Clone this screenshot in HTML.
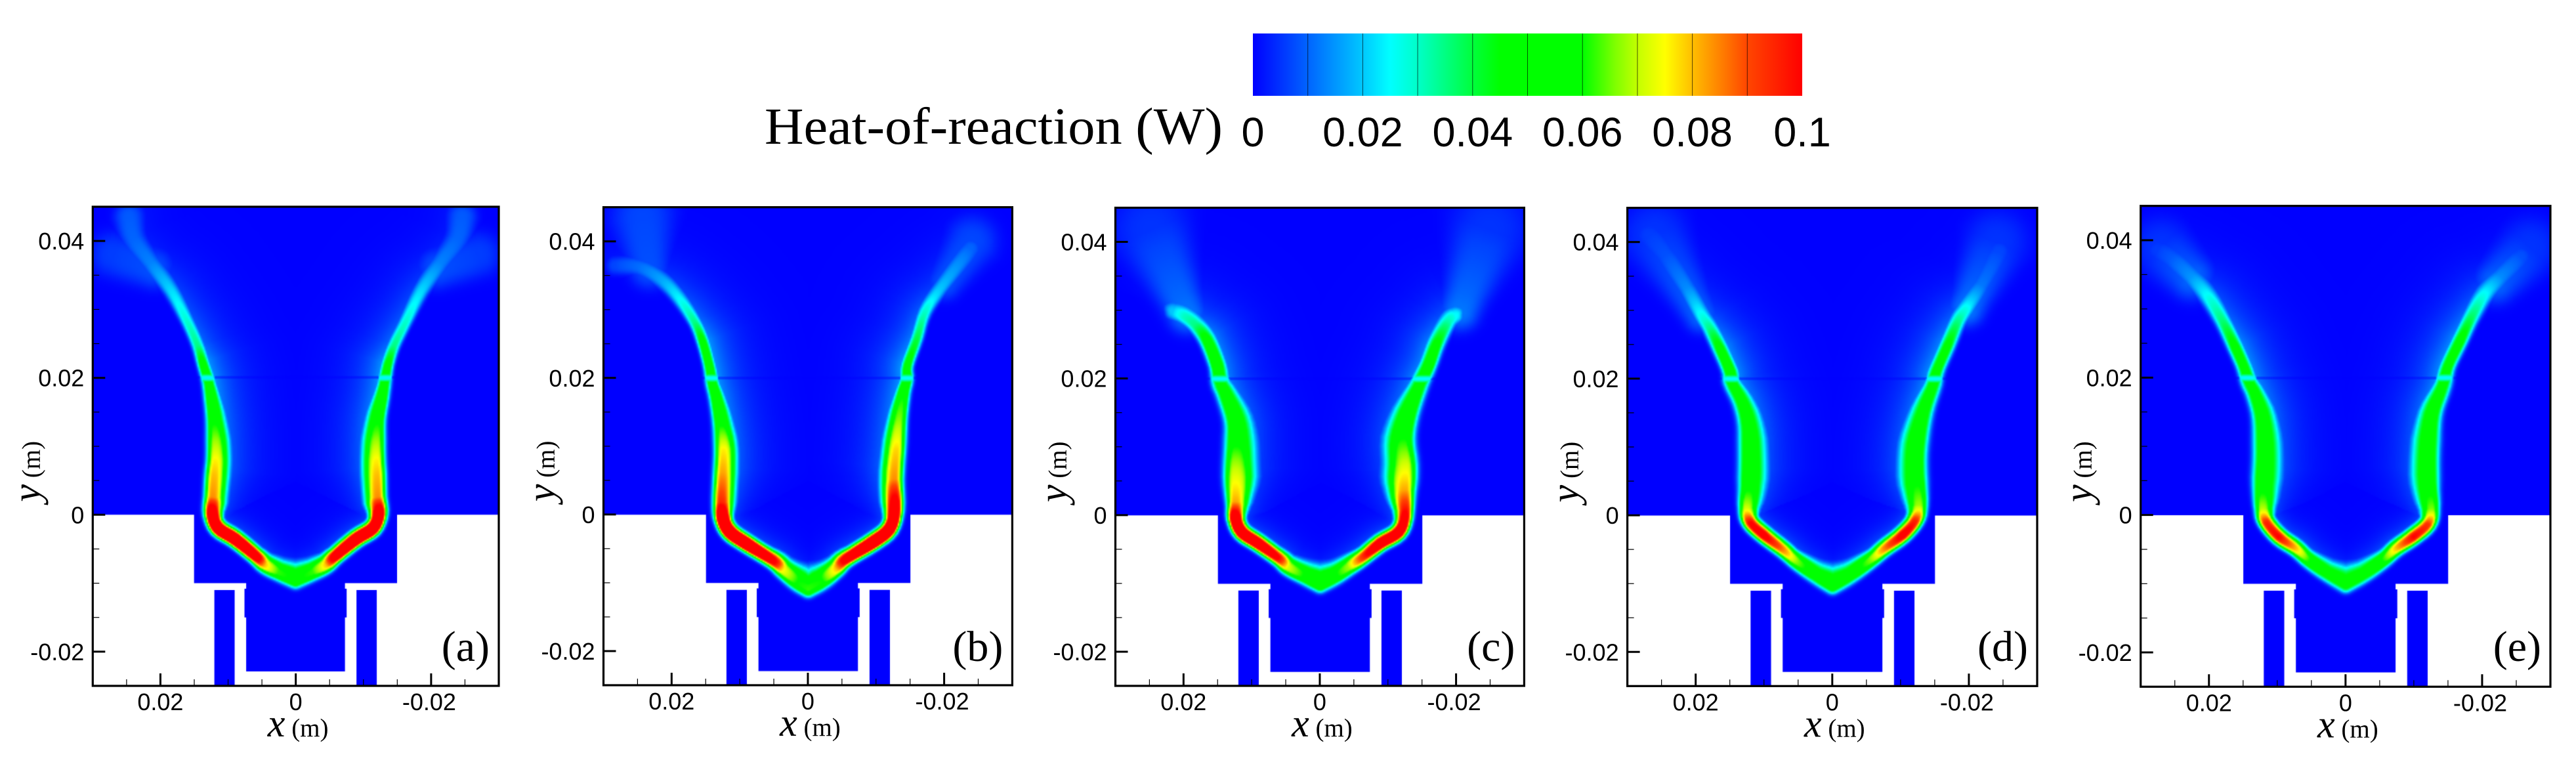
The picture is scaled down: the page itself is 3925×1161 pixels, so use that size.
<!DOCTYPE html>
<html lang="en">
<head>
<meta charset="utf-8">
<title>Heat-of-reaction contours</title>
<style>
html,body{margin:0;padding:0;background:#fff;}
#stage{position:relative;width:3925px;height:1161px;overflow:hidden;background:#fff;}
#stage canvas{position:absolute;display:block;}
#overlay{position:absolute;left:0;top:0;}
.sans{font-family:"Liberation Sans",sans-serif;fill:#000;}
.serif{font-family:"Liberation Serif",serif;fill:#000;}
</style>
</head>
<body>
<div id="stage">
<svg id="overlay" width="3925" height="1161" viewBox="0 0 3925 1161" xmlns="http://www.w3.org/2000/svg">
  <defs><linearGradient id="cbGrad" x1="0" x2="1" y1="0" y2="0"></linearGradient></defs>
  <g id="colorbar"></g>
  <text class="serif" x="1165" y="219" font-size="79" textLength="698" lengthAdjust="spacingAndGlyphs">Heat-of-reaction (W)</text>
  <g id="axes"></g>
</svg>
</div>
<script>
/* ---------- axis data ---------- */
const panelLetters = ['(a)', '(b)', '(c)', '(d)', '(e)'];
const xMajorTicks = [0.02, 0, -0.02];
const xTickLabels = ['0.02', '0', '-0.02'];
const xMinorTicks = [0.025, 0.015, 0.01, 0.005, -0.005, -0.01, -0.015, -0.025];
const yMajorTicks = [0.04, 0.02, 0, -0.02];
const yTickLabels = ['0.04', '0.02', '0', '-0.02'];
const yMinorTicks = [0.035, 0.03, 0.025, 0.015, 0.01, 0.005, -0.005, -0.01, -0.015];
const xDomain = [0.03, -0.03];
const yDomain = [0.045, -0.025];

/* ---------- colour scale ---------- */
const colorbarTicks = [0, 0.02, 0.04, 0.06, 0.08, 0.1];
const colorbarLabels = ['0', '0.02', '0.04', '0.06', '0.08', '0.1'];
const colorbarLevels = [0.01, 0.02, 0.03, 0.04, 0.05, 0.06, 0.07, 0.08, 0.09];
const cmapValues = [0, 0.01, 0.02, 0.025, 0.03, 0.035, 0.04, 0.045, 0.06, 0.066, 0.07, 0.075, 0.08, 0.085, 0.09, 0.1];
const cmapColors = [[0,0,255],[0,100,255],[0,200,255],[0,255,255],[0,255,200],[0,255,130],[0,255,60],[0,255,0],[0,255,0],[128,255,0],[195,255,0],[255,255,0],[255,190,0],[255,130,0],[255,70,0],[255,0,0]];

/* ---------- burner geometry, mm: xMin, xMax, yMin, yMax ---------- */
const burnerRects = [[-30,30,0,45],[-15,15,-10,0],[-7.3,7.3,-22.9,-9.9],[-7.55,7.55,-15,-10.8],[9,12,-25,-11],[-12,-9,-25,-11]];

/* ---------- flame-front traces: x mm, y mm, peak heat-of-reaction W ---------- */
const frontALeft = [[0,-9.6,.058],[2.6,-8.45,.062],[4.55,-7.4,.08],[6,-6,.115],[9,-3.6,.135],[11.5,-2,.135],[12.4,.15,.12],[12.3,2.6,.084],[12.1,5.8,.08],[11.9,8,.076],[11.9,10.7,.068],[12.1,13.9,.058],[12.5,17.1,.056],[12.9,19.5,.052],[13.7,22,.052],[14.5,24.7,.035],[15.9,27.9,.03],[18.4,32.7,.022],[21.4,36.8,.013],[23.9,40.3,.01],[24.6,43.5,.009]];
const frontARight = [[0,-9.6,.058],[-2.6,-8.45,.062],[-4.55,-7.4,.08],[-6,-6,.115],[-9,-3.6,.135],[-11.5,-2,.135],[-12.4,.15,.12],[-12.2,2.6,.084],[-12.1,5.8,.08],[-12,8,.076],[-12,10.7,.068],[-12.2,13.9,.058],[-12.8,17.1,.056],[-13.2,19.5,.052],[-13.7,22,.05],[-14.6,24.7,.035],[-16.2,27.9,.03],[-18.6,32.7,.022],[-21.4,36.8,.013],[-23.9,40.3,.01],[-24.6,43.5,.009]];
const plumeALeft = [[21,36,.008],[27,38,.006]];
const plumeARight = [[-21,36,.008],[-27,38,.006]];
const frontBLeft = [[0,-10.9,.062],[1.7,-9.9,.06],[3.7,-8.2,.075],[5.2,-6.75,.105],[9.1,-4.3,.14],[11.55,-2.6,.145],[12.6,-.6,.135],[12.8,1.8,.095],[12.6,6.2,.082],[12.5,9.6,.076],[12.8,13,.06],[13.5,17,.056],[14.1,19.4,.055],[14.5,21.6,.055],[15.5,25.3,.05],[16.7,28.2,.035],[18.9,31.6,.025],[21.4,34.3,.017],[24.8,36.3,.011],[28.3,36.5,.007]];
const frontBRight = [[0,-10.9,.062],[-2.2,-9.7,.06],[-4.2,-8,.08],[-5.65,-6.5,.11],[-9.6,-4.05,.14],[-12,-2.1,.135],[-12.8,.8,.115],[-12.7,5.2,.084],[-13,9.6,.078],[-13.4,14,.066],[-14,17.9,.058],[-14.5,19.9,.055],[-14.6,21.9,.05],[-16,25.8,.04],[-17.2,29.7,.03],[-19.4,33.1,.02],[-23.8,39,.01]];
const plumeBLeft = [[23.3,36,.008],[24.3,43.4,.007]];
const plumeBRight = [[-20,34,.008],[-24,40,.007]];
const frontCLeft = [[0,-10.1,.06],[2.2,-9,.058],[4.7,-7.65,.072],[6.1,-6.3,.1],[9.1,-4.15,.122],[11.55,-2.5,.128],[12.5,-.4,.122],[12.5,2,.082],[12.5,6.9,.07],[12.4,10.7,.058],[12.6,13.9,.055],[13.9,17.7,.052],[14.7,19.5,.05],[15.2,22,.058],[16.7,25.7,.05],[18.4,27.9,.035],[20.1,29.2,.03],[21.6,29.8,.02]];
const frontCRight = [[0,-10.1,.06],[-2.2,-9,.058],[-4.2,-7.65,.068],[-6.1,-6.3,.092],[-8.85,-4.15,.118],[-11.55,-2.5,.12],[-12.5,-.1,.105],[-12.5,3.7,.082],[-12.6,7.4,.072],[-12.3,11.2,.06],[-13.1,15,.056],[-14.7,19.3,.05],[-16,22,.055],[-17.2,25.2,.048],[-18.9,28.4,.032],[-19.9,29.2,.025]];
const plumeCLeft = [[19.5,29.5,.012],[24.8,41.9,.005]];
const plumeCRight = [[-20.5,30,.012],[-24.8,41.9,.005]];
const frontDLeft = [[0,-10.3,.055],[2.5,-8.8,.052],[5.2,-6.85,.066],[7.2,-5.1,.085],[10.1,-2.9,.105],[12.1,-1,.1],[12.6,1,.072],[12.3,4.4,.057],[12.2,9,.055],[12.4,13.2,.052],[13.3,16.6,.05],[14.8,19.6,.05],[15,21,.055],[16.5,24.4,.05],[18,27.4,.035],[19.2,29.3,.027],[21.4,33.3,.014],[24.4,38.1,.008],[26.8,41,.006]];
const frontDRight = [[0,-10.3,.055],[-2.65,-8.8,.052],[-5.6,-6.6,.066],[-7.6,-4.9,.085],[-10.3,-2.9,.105],[-12.2,-.7,.095],[-12.7,1.5,.068],[-12.3,5.9,.056],[-12.4,10.3,.055],[-13.4,15.2,.05],[-14.8,19.3,.05],[-15.2,21,.05],[-16.9,24.9,.048],[-18.4,28.4,.035],[-19.6,30.3,.027],[-21.8,33.7,.012],[-24.3,38.6,.007]];
const plumeDLeft = [[19.2,29.3,.01],[26,41,.005]];
const plumeDRight = [[-19.6,30.3,.012],[-24,40,.005]];
const frontELeft = [[0,-10.1,.05],[2.9,-8.4,.05],[5.35,-6.65,.06],[7.3,-4.9,.08],[9.8,-3.2,.1],[11.7,-1,.095],[12.2,.9,.07],[12.2,4.35,.056],[12,9.2,.054],[12.3,14.1,.052],[13.3,17.6,.05],[14.2,19.5,.05],[14.9,21.5,.05],[16.2,24.4,.05],[18.1,28.3,.036],[20.1,31.7,.027],[22.6,34.7,.015],[25.5,37.4,.009],[27.5,38.6,.006]];
const frontERight = [[0,-10.1,.05],[-2.75,-8.6,.05],[-5.45,-6.65,.06],[-7.4,-4.9,.08],[-9.9,-3.2,.1],[-12.1,-1.3,.093],[-12.6,.9,.066],[-12.2,4.8,.055],[-12.2,9.7,.053],[-12.7,14.6,.052],[-13.9,18,.05],[-14.4,19.5,.05],[-15,21.7,.05],[-16.8,25.4,.05],[-18.7,29.3,.036],[-20.4,32.2,.026],[-22.7,34.7,.014],[-25.6,37.6,.008]];
const plumeELeft = [[22.6,34.7,.01],[27,39,.005]];
const plumeERight = [[-22,34,.01],[-27,39,.005]];

/* ---------- reaction-zone thickness, mm, against height y ---------- */
const thicknessY = [-11,-10,-8.5,-6,-1,2,6,11,15,19,22,28,33,38,44];
const thicknessOuter = [1.15,1.15,1.1,1.05,1.05,1.15,1.2,1.2,1.05,.95,.8,.8,1,1.5,2.2];
const thicknessInner = [2.2,2.6,1.9,1.25,1.3,1.9,2.1,2,1.6,1,.95,1,1.2,1.5,2.2];

/* ---------- layout ---------- */
const panelBoxes = [
  {left:141.3,right:760,top:315,bottom:1045,titleGap:81},
  {left:919.5,right:1542.4,top:315.7,bottom:1044,titleGap:75},
  {left:1699.5,right:2322.4,top:316.5,bottom:1045,titleGap:75},
  {left:2479.6,right:3104,top:316.7,bottom:1045.3,titleGap:75},
  {left:3261.7,right:3886,top:313.7,bottom:1046.3,titleGap:75}
];
const panelFronts = [
  {left:[frontALeft],right:[frontARight],plumeL:[plumeALeft],plumeR:[plumeARight],outerScale:1,innerScale:1},
  {left:[frontBLeft],right:[frontBRight],plumeL:[plumeBLeft],plumeR:[plumeBRight],outerScale:1,innerScale:.95},
  {left:[frontCLeft],right:[frontCRight],plumeL:[plumeCLeft],plumeR:[plumeCRight],outerScale:1.3,innerScale:1.4},
  {left:[frontDLeft],right:[frontDRight],plumeL:[plumeDLeft],plumeR:[plumeDRight],outerScale:1.25,innerScale:1.2},
  {left:[frontELeft],right:[frontERight],plumeL:[plumeELeft],plumeR:[plumeERight],outerScale:1.25,innerScale:1.2}
];

const SVGNS = 'http://www.w3.org/2000/svg';
const axesLayer = document.getElementById('axes');
const stage = document.getElementById('stage');

function lerpTable(xs, ys, v) {
  if (v <= xs[0]) return ys[0];
  const n = xs.length - 1;
  if (v >= xs[n]) return ys[n];
  let i = 0;
  while (v > xs[i + 1]) i++;
  return ys[i] + (ys[i + 1] - ys[i]) * (v - xs[i]) / (xs[i + 1] - xs[i]);
}
function colorAt(v) {
  const n = cmapValues.length - 1;
  if (v <= 0) return cmapColors[0];
  if (v >= cmapValues[n]) return cmapColors[n];
  let i = 0;
  while (v > cmapValues[i + 1]) i++;
  const t = (v - cmapValues[i]) / (cmapValues[i + 1] - cmapValues[i]);
  const a = cmapColors[i], b = cmapColors[i + 1];
  return [a[0] + (b[0] - a[0]) * t, a[1] + (b[1] - a[1]) * t, a[2] + (b[2] - a[2]) * t];
}

function widthsAt(y, spec, boost) {
  const k = Math.max(0, Math.min(1, (y - 1) / 4));
  let o = lerpTable(thicknessY, thicknessOuter, y) * (1 + (spec.outerScale - 1) * k) * boost;
  let n = lerpTable(thicknessY, thicknessInner, y) * (1 + (spec.innerScale - 1) * k) * boost;
  if (boost > 1) { o = n = (o + n) / 2; }
  return [o, n];
}

/* Smooth a trace into fine segments, working in |x| so both sides share one normal rule. */
function refineTrace(trace, spec, boost) {
  const out = [];
  const steps = 4;
  for (let i = 0; i < trace.length - 1; i++) {
    const p0 = trace[Math.max(i - 1, 0)], p1 = trace[i], p2 = trace[i + 1], p3 = trace[Math.min(i + 2, trace.length - 1)];
    for (let s = 0; s < steps; s++) {
      const t = s / steps, t2 = t * t, t3 = t2 * t;
      const ax0 = Math.abs(p0[0]), ax1 = Math.abs(p1[0]), ax2 = Math.abs(p2[0]), ax3 = Math.abs(p3[0]);
      const x = 0.5 * (2 * ax1 + (ax2 - ax0) * t + (2 * ax0 - 5 * ax1 + 4 * ax2 - ax3) * t2 + (3 * ax1 - ax0 - 3 * ax2 + ax3) * t3);
      const y = 0.5 * (2 * p1[1] + (p2[1] - p0[1]) * t + (2 * p0[1] - 5 * p1[1] + 4 * p2[1] - p3[1]) * t2 + (3 * p1[1] - p0[1] - 3 * p2[1] + p3[1]) * t3);
      const peak = p1[2] + (p2[2] - p1[2]) * t;
      const w = widthsAt(y, spec, boost);
      out.push([x, y, peak, w[0], w[1]]);
    }
  }
  const last = trace[trace.length - 1];
  const wl = widthsAt(last[1], spec, boost);
  out.push([Math.abs(last[0]), last[1], last[2], wl[0], wl[1]]);
  out.glow = boost > 1 ? 0 : 1;
  return out;
}

function traceValue(seg, ax, y) {
  let best = 1e9, bi = 0, bt = 0, bc = 0;
  for (let i = 0; i < seg.length - 1; i++) {
    const a = seg[i], b = seg[i + 1];
    const dx = b[0] - a[0], dy = b[1] - a[1];
    const l2 = dx * dx + dy * dy || 1e-6;
    let t = ((ax - a[0]) * dx + (y - a[1]) * dy) / l2;
    if (t < 0) t = 0; else if (t > 1) t = 1;
    const qx = a[0] + dx * t - ax, qy = a[1] + dy * t - y;
    const d2 = qx * qx + qy * qy;
    if (d2 < best) {
      best = d2; bi = i; bt = t;
      bc = (dx * (y - a[1]) - dy * (ax - a[0])) / Math.sqrt(l2);
    }
  }
  const a = seg[bi], b = seg[bi + 1];
  const p = a[2] + (b[2] - a[2]) * bt;
  const d = Math.sqrt(best) || 1e-6;
  /* side: -1 fully outer, +1 fully inner, smooth around the trace ends */
  let side = bc / d * 3;
  if (side > 1) side = 1; else if (side < -1) side = -1;
  const wo = a[3] + (b[3] - a[3]) * bt, wi = a[4] + (b[4] - a[4]) * bt;
  const w = wo + (wi - wo) * (side + 1) / 2;
  let v = p * Math.exp(-Math.pow(d / w, 3));
  if (seg.glow && side > 0) {
    const sy0 = a[1] + (b[1] - a[1]) * bt;
    const L = 1.5 + 1.5 * Math.max(0, Math.min(1, (sy0 + 1) / 8));
    const g = side * 0.4 * Math.min(p, 0.05) * Math.exp(-d / L);
    if (g > v) v = g;
  }
  return v;
}

function fieldValue(traces, x, y) {
  if (y < -13.5) return 0;
  const ax = Math.abs(x);
  let v = 0;
  for (let i = 0; i < traces.length; i++) {
    const tv = traceValue(traces[i], ax, y);
    if (tv > v) v = tv;
  }
  const gap = Math.abs(y - 20);
  if (gap < 1) {
    const cap = 0.024 + 0.045 * Math.pow(gap, 1.5);
    if (v > cap) v = cap;
    if (gap < 0.2 && v < 0.016) v *= 0.55;
  }
  return v;
}

function addText(cls, x, y, size, anchor, str) {
  const t = document.createElementNS(SVGNS, 'text');
  t.setAttribute('class', cls);
  t.setAttribute('x', x);
  t.setAttribute('y', y);
  t.setAttribute('font-size', size);
  t.setAttribute('text-anchor', anchor);
  t.textContent = str;
  return t;
}
function addLine(x1, y1, x2, y2, width) {
  const l = document.createElementNS(SVGNS, 'line');
  l.setAttribute('x1', x1);
  l.setAttribute('y1', y1);
  l.setAttribute('x2', x2);
  l.setAttribute('y2', y2);
  l.setAttribute('stroke', '#000');
  l.setAttribute('stroke-width', width);
  return l;
}

/* ---------- colour bar ---------- */
(function drawColorbar() {
  const bar = document.getElementById('colorbar');
  const barLeft = 1909, barRight = 2746, barTop = 51, barBottom = 146, labelY = 223;
  const cbX = v => barLeft + (v - colorbarTicks[0]) / (colorbarTicks[colorbarTicks.length - 1] - colorbarTicks[0]) * (barRight - barLeft);
  const grad = document.getElementById('cbGrad');
  cmapValues.forEach((v, i) => {
    const st = document.createElementNS(SVGNS, 'stop');
    st.setAttribute('offset', (v / cmapValues[cmapValues.length - 1]).toFixed(4));
    const c = cmapColors[i];
    st.setAttribute('stop-color', 'rgb(' + c[0] + ',' + c[1] + ',' + c[2] + ')');
    grad.appendChild(st);
  });
  const r = document.createElementNS(SVGNS, 'rect');
  r.setAttribute('x', barLeft);
  r.setAttribute('y', barTop);
  r.setAttribute('width', barRight - barLeft);
  r.setAttribute('height', barBottom - barTop);
  r.setAttribute('fill', 'url(#cbGrad)');
  
  
  bar.appendChild(r);
  colorbarLevels.forEach(v => {
    const l = addLine(cbX(v), barTop, cbX(v), barBottom, 1);
    l.setAttribute('stroke-opacity', '0.65');
    
    
    bar.appendChild(l);
  });
  colorbarTicks.forEach((v, i) => {
    const t = addText('sans', cbX(v), labelY, 63, 'middle', colorbarLabels[i]);
    
    
    bar.appendChild(t);
  });
})();

/* ---------- panels ---------- */
panelBoxes.forEach((box, idx) => {
  const W = box.right - box.left, H = box.bottom - box.top;
  const sx = v => box.left + (xDomain[0] - v) / (xDomain[0] - xDomain[1]) * W;
  const sy = v => box.top + (yDomain[0] - v) / (yDomain[0] - yDomain[1]) * H;

  /* heat field */
  const cw = Math.ceil(W), ch = Math.ceil(H);
  const cv = document.createElement('canvas');
  cv.width = cw;
  cv.height = ch;
  cv.style.left = box.left + 'px';
  cv.style.top = box.top + 'px';
  
  
  stage.insertBefore(cv, stage.firstChild);

  const fw = Math.ceil(cw / 2), fh = Math.ceil(ch / 2);
  const off = document.createElement('canvas');
  off.width = fw;
  off.height = fh;
  const octx = off.getContext('2d');
  const img = octx.createImageData(fw, fh);
  const spec = panelFronts[idx];
  const leftSegs = spec.left.map(t => refineTrace(t, spec, 1)).concat(spec.plumeL.map(t => refineTrace(t, spec, 2.2)));
  const rightSegs = spec.right.map(t => refineTrace(t, spec, 1)).concat(spec.plumeR.map(t => refineTrace(t, spec, 2.2)));
  for (let j = 0; j < fh; j++) {
    const yVal = (yDomain[0] - (j + 0.5) * 2 / H * (yDomain[0] - yDomain[1])) * 1000;
    for (let i = 0; i < fw; i++) {
      const xVal = (xDomain[0] - (i + 0.5) * 2 / W * (xDomain[0] - xDomain[1])) * 1000;
      const v = fieldValue(xVal >= 0 ? leftSegs : rightSegs, xVal, yVal);
      const c = colorAt(v);
      const k = (j * fw + i) * 4;
      img.data[k] = c[0];
      img.data[k + 1] = c[1];
      img.data[k + 2] = c[2];
      img.data[k + 3] = 255;
    }
  }
  octx.putImageData(img, 0, 0);
  const ctx = cv.getContext('2d');
  ctx.beginPath();
  burnerRects.forEach(b => {
    const xa = sx(b[1] / 1000) - box.left, xb = sx(b[0] / 1000) - box.left;
    const ya = sy(b[3] / 1000) - box.top, yb = sy(b[2] / 1000) - box.top;
    ctx.rect(xa, ya, xb - xa, yb - ya);
  });
  ctx.clip();
  ctx.imageSmoothingEnabled = true;
  ctx.imageSmoothingQuality = 'high';
  ctx.drawImage(off, 0, 0, fw, fh, 0, 0, fw * 2, fh * 2);

  /* axes */
  const g = document.createElementNS(SVGNS, 'g');
  
  
  axesLayer.appendChild(g);

  const frame = document.createElementNS(SVGNS, 'rect');
  frame.setAttribute('x', box.left);
  frame.setAttribute('y', box.top);
  frame.setAttribute('width', W);
  frame.setAttribute('height', H);
  frame.setAttribute('fill', 'none');
  frame.setAttribute('stroke', '#000');
  frame.setAttribute('stroke-width', '3.2');
  
  
  g.appendChild(frame);

  xMinorTicks.forEach(v => {
    const l = addLine(sx(v), box.bottom, sx(v), box.bottom - 10, 1.2);
    
    
    g.appendChild(l);
  });
  yMinorTicks.forEach(v => {
    const l = addLine(box.left, sy(v), box.left + 10, sy(v), 1.2);
    
    
    g.appendChild(l);
  });
  xMajorTicks.forEach((v, i) => {
    const l = addLine(sx(v), box.bottom, sx(v), box.bottom - 19, 3);
    
    
    g.appendChild(l);
    const t = addText('sans', sx(v) - (v < 0 ? 3 : 0), box.bottom + 37, 36, 'middle', xTickLabels[i]);
    
    
    g.appendChild(t);
  });
  yMajorTicks.forEach((v, i) => {
    const l = addLine(box.left, sy(v), box.left + 19, sy(v), 3);
    
    
    g.appendChild(l);
    const t = addText('sans', box.left - 13, sy(v) + 13, 36, 'end', yTickLabels[i]);
    
    
    g.appendChild(t);
  });

  /* axis titles */
  const xt = addText('serif', sx(0) + 3.5, box.bottom + 77, 39, 'middle', '');
  const xv = document.createElementNS(SVGNS, 'tspan');
  xv.setAttribute('font-style', 'italic');
  xv.setAttribute('font-size', '60');
  xv.textContent = 'x';
  const xu = document.createElementNS(SVGNS, 'tspan');
  xu.textContent = ' (m)';
  xt.appendChild(xv);
  xt.appendChild(xu);
  
  
  g.appendChild(xt);

  const yx = box.left - box.titleGap, yy = sy(0) - 66;
  const yt = addText('serif', yx, yy, 39, 'middle', '');
  yt.setAttribute('transform', 'rotate(-90 ' + yx + ' ' + yy + ')');
  const yv = document.createElementNS(SVGNS, 'tspan');
  yv.setAttribute('font-style', 'italic');
  yv.setAttribute('font-size', '60');
  yv.textContent = 'y';
  const yu = document.createElementNS(SVGNS, 'tspan');
  yu.textContent = ' (m)';
  yt.appendChild(yv);
  yt.appendChild(yu);
  
  
  g.appendChild(yt);

  const lt = addText('serif', box.right - 14, 1007, 66, 'end', panelLetters[idx]);
  
  
  g.appendChild(lt);
});
</script>
</body>
</html>
